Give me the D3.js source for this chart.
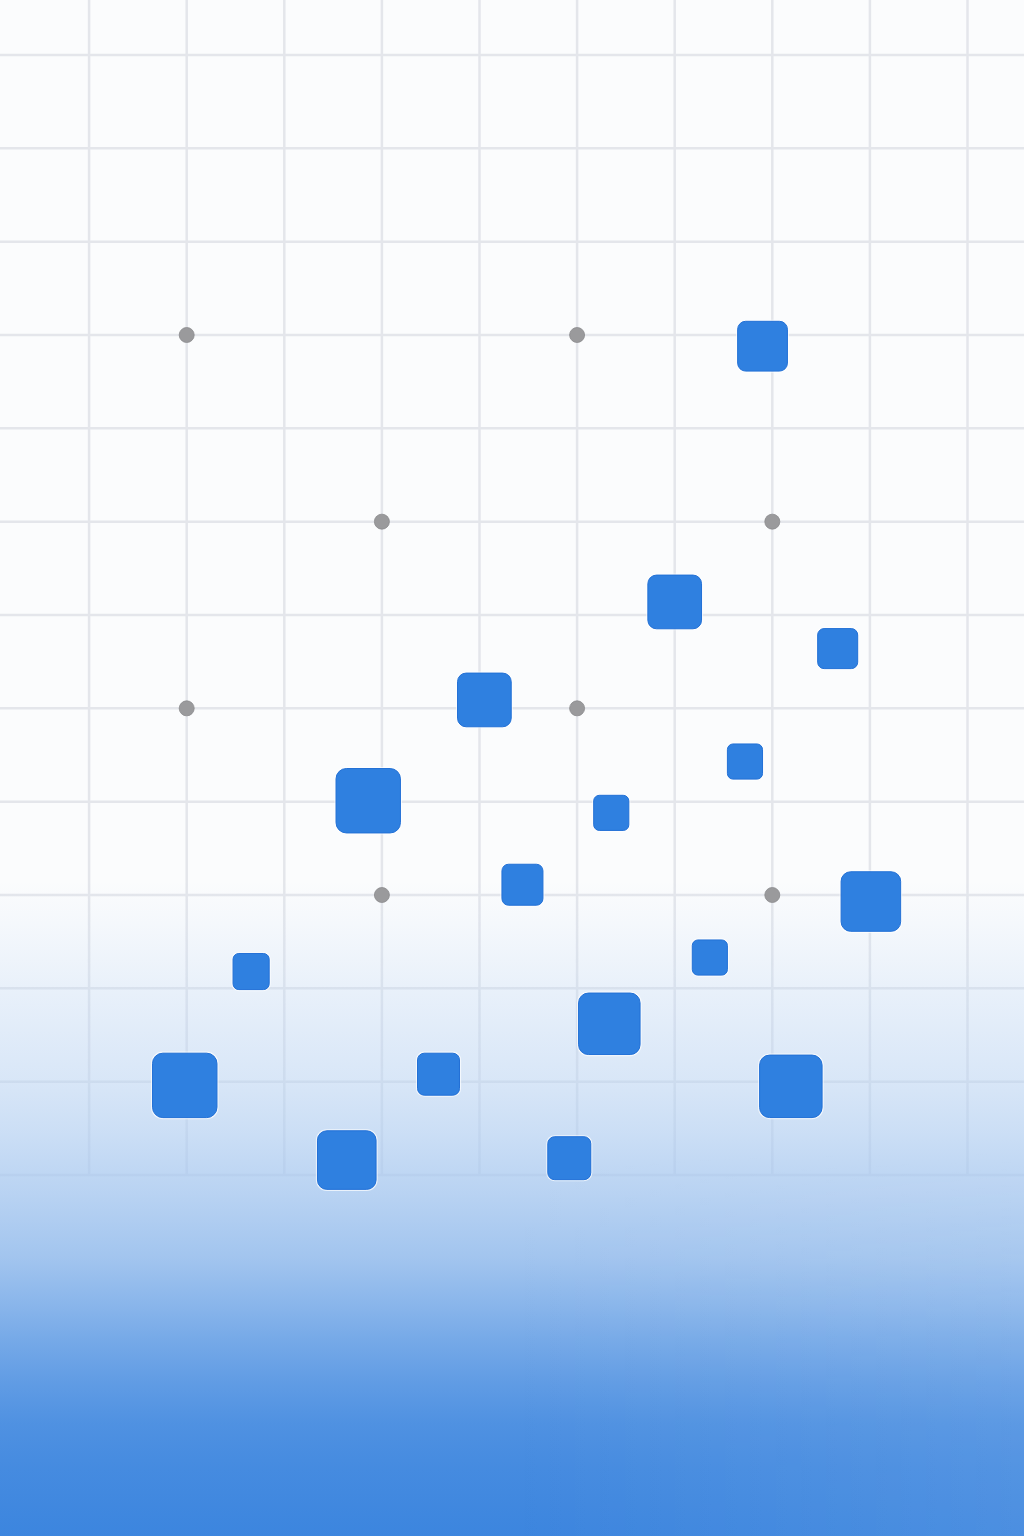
<!DOCTYPE html>
<html>
<head>
<meta charset="utf-8">
<script src="https://cdn.jsdelivr.net/npm/d3@7"></script>
<style>
  html, body { margin: 0; padding: 0; background: #fbfcfd; }
  svg { display: block; }
</style>
</head>
<body>
<div id="chart"></div>
<script>
// grid positions (grid units)
var gridCols = [1, 2, 3, 4, 5, 6, 7, 8, 9, 10];
var gridRows = [0, 1, 2, 3, 4, 5, 6, 7, 8, 9, 10, 11, 12];

// gray anchor points
var dotX = [2, 6, 4, 8, 2, 6, 4, 8];
var dotY = [3, 3, 5, 5, 7, 7, 9, 9];

// blue squares: centre and side length, in grid units
var sqX = [7.90, 7.00, 8.67, 5.05, 7.72, 3.86, 6.35, 5.44, 9.01, 7.36, 2.66, 6.33, 1.98, 4.58, 8.19, 3.64, 5.92];
var sqY = [3.12, 5.86, 6.36, 6.91, 7.57, 7.99, 8.12, 8.89, 9.07, 9.67, 9.82, 10.38, 11.04, 10.92, 11.05, 11.84, 11.82];
var sqSize = [0.51, 0.55, 0.41, 0.55, 0.36, 0.66, 0.36, 0.42, 0.61, 0.36, 0.37, 0.63, 0.66, 0.43, 0.64, 0.60, 0.44];

// blue wash: page y, opacity
var washY = [880, 920, 1005, 1081, 1131, 1194, 1257, 1298, 1340, 1382, 1424, 1466, 1536];
var washA = [0, 0.03, 0.11, 0.18, 0.245, 0.345, 0.46, 0.57, 0.69, 0.80, 0.89, 0.94, 0.99];

var svgWidth = 1024;
var svgHeight = 1536;

var svg = d3.select("#chart")
    .append("svg")
    .attr("width", svgWidth)
    .attr("height", svgHeight);

var xScale = d3.scaleLinear().domain([0, 10]).range([-8.5, 967.5]);
var yScale = d3.scaleLinear().domain([0, 12]).range([55, 1175]);
var sizeScale = d3.scaleLinear().domain([0, 1]).range([0, 97.6]);
var offScale = d3.scaleLinear().domain([0, svgHeight]).range([0, 1]);

var defs = svg.append("defs");

// wash coming up from the bottom
var wash = defs.append("linearGradient")
    .attr("id", "wash")
    .attr("gradientUnits", "userSpaceOnUse")
    .attr("x1", 0).attr("y1", 0)
    .attr("x2", 0).attr("y2", svgHeight);
washY.forEach(function (y, i) {
    wash.append("stop")
        .attr("offset", offScale(y))
        .attr("stop-color", "#3a84de")
        .attr("stop-opacity", washA[i]);
});

// slight lightening toward the bottom right
var sideLight = defs.append("linearGradient")
    .attr("id", "sideLight")
    .attr("x1", 0).attr("y1", 0).attr("x2", 1).attr("y2", 0);
sideLight.append("stop").attr("offset", 0.5).attr("stop-color", "#fff").attr("stop-opacity", 0);
sideLight.append("stop").attr("offset", 1).attr("stop-color", "#fff").attr("stop-opacity", 0.08);

var fadeDown = defs.append("linearGradient")
    .attr("id", "fadeDown")
    .attr("x1", 0).attr("y1", 0).attr("x2", 0).attr("y2", 1);
fadeDown.append("stop").attr("offset", 0).attr("stop-color", "#000");
fadeDown.append("stop").attr("offset", 0.4).attr("stop-color", "#fff");

defs.append("mask")
    .attr("id", "bottomMask")
    .attr("maskUnits", "userSpaceOnUse")
    .attr("x", 0).attr("y", 1150)
    .attr("width", svgWidth).attr("height", svgHeight - 1150)
    .append("rect")
    .attr("x", 0).attr("y", 1150)
    .attr("width", svgWidth).attr("height", svgHeight - 1150)
    .attr("fill", "url(#fadeDown)");

// grid fades out where the wash begins
var gridFade = defs.append("linearGradient")
    .attr("id", "gridFade")
    .attr("gradientUnits", "userSpaceOnUse")
    .attr("x1", 0).attr("y1", 0).attr("x2", 0).attr("y2", svgHeight);
gridFade.append("stop").attr("offset", offScale(880)).attr("stop-color", "#fff");
gridFade.append("stop").attr("offset", offScale(1180)).attr("stop-color", "#666");

defs.append("mask")
    .attr("id", "gridMask")
    .attr("maskUnits", "userSpaceOnUse")
    .attr("x", 0).attr("y", 0)
    .attr("width", svgWidth).attr("height", svgHeight)
    .append("rect")
    .attr("width", svgWidth).attr("height", svgHeight)
    .attr("fill", "url(#gridFade)");

// background
svg.append("rect")
    .attr("width", svgWidth)
    .attr("height", svgHeight)
    .attr("fill", "#fbfcfd");

// grid
var grid = svg.append("g")
    .attr("stroke", "#e4e6eb")
    .attr("stroke-width", 2.5)
    .attr("mask", "url(#gridMask)");

grid.selectAll("line.v")
    .data(gridCols)
    .enter()
    .append("line")
    .attr("class", "v")
    .attr("x1", d => xScale(d))
    .attr("x2", d => xScale(d))
    .attr("y1", 0)
    .attr("y2", yScale(12));

grid.selectAll("line.h")
    .data(gridRows)
    .enter()
    .append("line")
    .attr("class", "h")
    .attr("x1", 0)
    .attr("x2", svgWidth)
    .attr("y1", d => yScale(d))
    .attr("y2", d => yScale(d));

// gradient overlays
svg.append("rect")
    .attr("width", svgWidth)
    .attr("height", svgHeight)
    .attr("fill", "url(#wash)");

svg.append("rect")
    .attr("x", 0).attr("y", 1150)
    .attr("width", svgWidth).attr("height", svgHeight - 1150)
    .attr("fill", "url(#sideLight)")
    .attr("mask", "url(#bottomMask)");

// gray dots
svg.selectAll("circle.dot")
    .data(dotX)
    .enter()
    .append("circle")
    .attr("class", "dot")
    .attr("cx", d => xScale(d))
    .attr("cy", (d, i) => yScale(dotY[i]))
    .attr("r", 7.5)
    .attr("fill", "#9a9a9c")
    .attr("stroke", "#8a8a8d")
    .attr("stroke-width", 0.8);

// squares
var squares = sqX.map(function (x, i) {
    return { x: x, y: sqY[i], s: sqSize[i] };
});

var sqGroup = svg.append("g");

// faint white halo
sqGroup.selectAll("rect.halo")
    .data(squares)
    .enter()
    .append("rect")
    .attr("class", "halo")
    .attr("x", d => xScale(d.x) - sizeScale(d.s) / 2 - 1)
    .attr("y", d => yScale(d.y) - sizeScale(d.s) / 2 - 1)
    .attr("width", d => sizeScale(d.s) + 2)
    .attr("height", d => sizeScale(d.s) + 2)
    .attr("rx", d => sizeScale(d.s) * 0.16 + 1)
    .attr("fill", "none")
    .attr("stroke", "#ffffff")
    .attr("stroke-opacity", 0.7)
    .attr("stroke-width", 1.2);

sqGroup.selectAll("rect.sq")
    .data(squares)
    .enter()
    .append("rect")
    .attr("class", "sq")
    .attr("x", d => xScale(d.x) - sizeScale(d.s) / 2)
    .attr("y", d => yScale(d.y) - sizeScale(d.s) / 2)
    .attr("width", d => sizeScale(d.s))
    .attr("height", d => sizeScale(d.s))
    .attr("rx", d => sizeScale(d.s) * 0.16)
    .attr("fill", "#2f80e0")
    .attr("stroke", "#2270d6")
    .attr("stroke-width", 1);
</script>
</body>
</html>
